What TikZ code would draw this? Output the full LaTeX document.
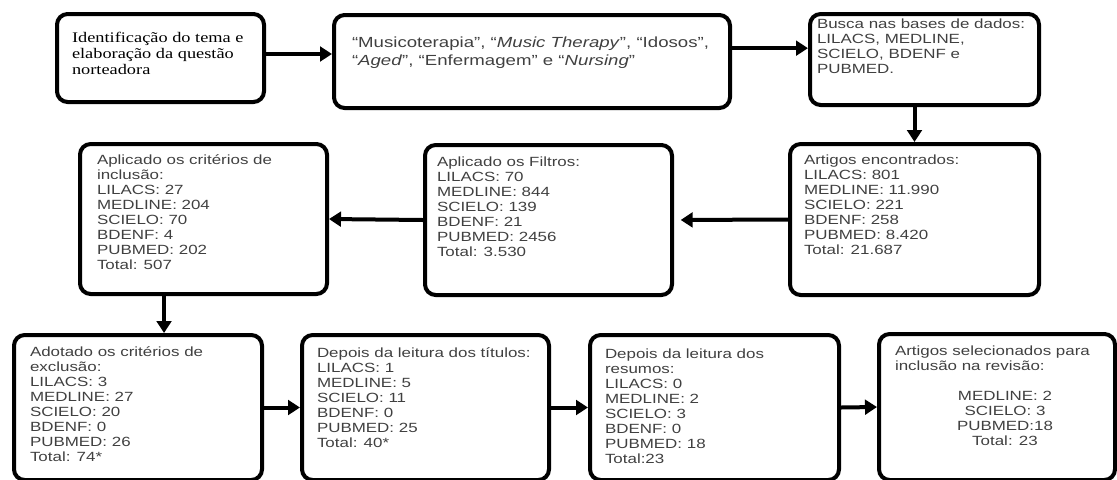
\documentclass[tikz,border=0pt]{standalone}
\usepackage{fontspec}
\setmainfont[FakeStretch=1.27]{Liberation Sans}
\newfontfamily\serifcaixa[FakeStretch=1.25]{Liberation Serif}
\usetikzlibrary{arrows.meta}
\definecolor{texto}{gray}{0.25}

\newcommand{\caixatexto}[4]{\parbox[t][#2][t]{#1}{\raggedright\leftskip=#3\relax #4}}

\tikzset{
    caixa/.style={draw=black, line width=3pt, rounded corners=8pt, anchor=north west,
        inner xsep=0pt, text=texto, font=\fontsize{10}{11.25}\selectfont},
    seta/.style={line width=3pt, -{Triangle[length=9pt,width=11pt]}}
}

\begin{document}
\begin{tikzpicture}[x=0.75pt, y=-0.75pt]
    \useasboundingbox (0,0) rectangle (1117,479);

    \node[caixa, inner ysep=13.5pt, text=black, font=\serifcaixa\fontsize{11}{12}\selectfont] (ident) at (55,12)
        {\caixatexto{155.25pt}{39pt}{11.25pt}{Identificação do tema e\\elaboração da questão\\norteadora}};
    \node[caixa, inner ysep=16.5pt, font=\fontsize{11}{13.5}\selectfont] (termos) at (332,13)
        {\caixatexto{297pt}{36.75pt}{13.5pt}{“Musicoterapia”, “\textit{Music Therapy}”, “Idosos”,\\“\textit{Aged}”, “Enfermagem” e “\textit{Nursing}”}};
    \node[caixa, inner ysep=3.75pt] (busca) at (808,12)
        {\caixatexto{171.75pt}{60.75pt}{5.25pt}{Busca nas bases de dados:\\LILACS, MEDLINE,\\SCIELO, BDENF e\\PUBMED.}};

    \node[caixa, inner ysep=8.25pt] (encontrados) at (788,142)
        {\caixatexto{186.75pt}{96.75pt}{10.5pt}{Artigos encontrados:\\LILACS: 801\\MEDLINE: 11.990\\SCIELO: 221\\BDENF: 258\\PUBMED: 8.420\\Total: 21.687}};
    \node[caixa, inner ysep=9pt] (filtros) at (423,143)
        {\caixatexto{185.25pt}{94.5pt}{9pt}{Aplicado os Filtros:\\LILACS: 70\\MEDLINE: 844\\SCIELO: 139\\BDENF: 21\\PUBMED: 2456\\Total: 3.530}};
    \node[caixa, inner ysep=8.25pt] (inclusao) at (78,142)
        {\caixatexto{185.25pt}{96pt}{12.75pt}{Aplicado os critérios de\\inclusão:\\LILACS: 27\\MEDLINE: 204\\SCIELO: 70\\BDENF: 4\\PUBMED: 202\\Total: 507}};

    \node[caixa, inner ysep=9pt] (exclusao) at (12,333)
        {\caixatexto{186pt}{90.75pt}{12pt}{Adotado os critérios de\\exclusão:\\LILACS: 3\\MEDLINE: 27\\SCIELO: 20\\BDENF: 0\\PUBMED: 26\\Total: 74*}};
    \node[caixa, inner ysep=9.75pt] (titulos) at (300,333)
        {\caixatexto{185.25pt}{89.25pt}{11.25pt}{Depois da leitura dos títulos:\\LILACS: 1\\MEDLINE: 5\\SCIELO: 11\\BDENF: 0\\PUBMED: 25\\Total: 40*}};
    \node[caixa, inner ysep=10.5pt] (resumos) at (588,333)
        {\caixatexto{186.75pt}{87.75pt}{11.25pt}{Depois da leitura dos\\resumos:\\LILACS: 0\\MEDLINE: 2\\SCIELO: 3\\BDENF: 0\\PUBMED: 18\\Total:23}};
    \node[caixa, inner ysep=9pt] (selecionados) at (877,332)
        {\caixatexto{177pt}{91.5pt}{12pt}{Artigos selecionados para\\inclusão na revisão:\par
        \vspace{11.25pt}{\centering\leftskip=12pt plus 1fil MEDLINE: 2\\SCIELO: 3\\PUBMED:18\\Total: 23\par}}};

    \draw[seta] ([yshift=3pt]ident.east) -- ([yshift=3pt]ident.east -| termos.west);
    \draw[seta] ([yshift=10pt]termos.east) -- ([yshift=10pt]termos.east -| busca.west);
    \draw[seta] (encontrados.north |- busca.south) -- (encontrados.north);
    \draw[seta, shorten >=5pt] (encontrados.west) -- (filtros.east);
    \draw[seta] (filtros.west) -- (inclusao.east);
    \draw[seta] ([xshift=-29.6pt]inclusao.south) -- ([xshift=-29.6pt]inclusao.south |- exclusao.north);
    \draw[seta] (exclusao.east) -- (titulos.west);
    \draw[seta] (titulos.east) -- (resumos.west);
    \draw[seta] (resumos.east) -- (selecionados.west);

\end{tikzpicture}
\end{document}
